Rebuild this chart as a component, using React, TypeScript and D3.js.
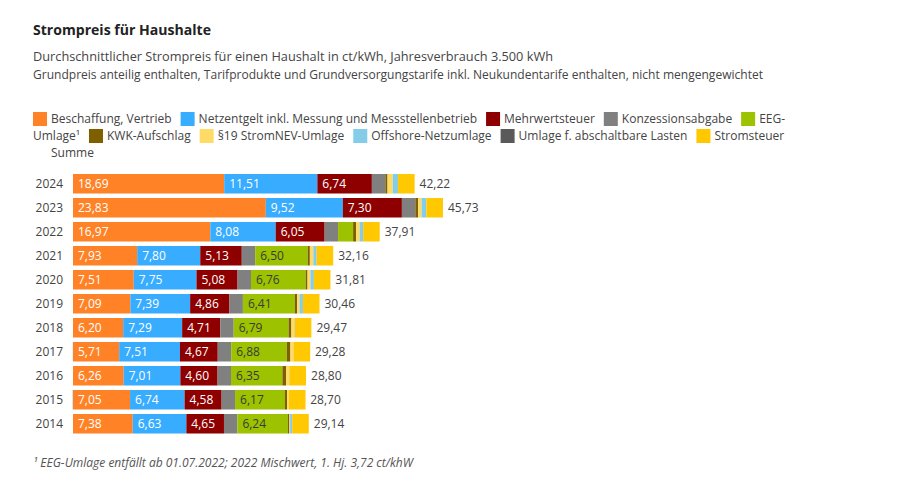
import { useEffect, useRef } from 'react';
import * as d3 from 'd3';

const years = ['2024', '2023', '2022', '2021', '2020', '2019', '2018', '2017', '2016', '2015', '2014'];

const beschaffung = [18.69, 23.83, 16.97, 7.93, 7.51, 7.09, 6.20, 5.71, 6.26, 7.05, 7.38];
const netzentgelt = [11.51, 9.52, 8.08, 7.80, 7.75, 7.39, 7.29, 7.51, 7.01, 6.74, 6.63];
const mehrwertsteuer = [6.74, 7.30, 6.05, 5.13, 5.08, 4.86, 4.71, 4.67, 4.60, 4.58, 4.65];
const konzession = [1.66, 1.66, 1.66, 1.66, 1.66, 1.66, 1.66, 1.66, 1.66, 1.66, 1.66];
const eeg = [0, 0, 1.86, 6.50, 6.76, 6.41, 6.79, 6.88, 6.35, 6.17, 6.24];
const kwk = [0.275, 0.357, 0.378, 0.254, 0.226, 0.280, 0.345, 0.438, 0.445, 0.254, 0.178];
const stromnev = [0.643, 0.417, 0.437, 0.432, 0.358, 0.305, 0.370, 0.388, 0.378, 0.237, 0.092];
const offshore = [0.656, 0.591, 0.419, 0.395, 0.416, 0.416, 0.037, -0.028, 0.040, -0.051, 0.250];
const abschaltbar = [0, 0, 0.003, 0.009, 0.007, 0.005, 0.011, 0.006, 0, 0, 0.009];
const stromsteuer = [2.05, 2.05, 2.05, 2.05, 2.05, 2.05, 2.05, 2.05, 2.05, 2.05, 2.05];
const summe = [42.22, 45.73, 37.91, 32.16, 31.81, 30.46, 29.47, 29.28, 28.80, 28.70, 29.14];

const series = [
    { key: 'Beschaffung, Vertrieb', values: beschaffung, color: '#ff8227', label: '#fff' },
    { key: 'Netzentgelt inkl. Messung und Messstellenbetrieb', values: netzentgelt, color: '#38acff', label: '#fff' },
    { key: 'Mehrwertsteuer', values: mehrwertsteuer, color: '#8e0000', label: '#fff' },
    { key: 'Konzessionsabgabe', values: konzession, color: '#808080', label: null },
    { key: 'EEG-Umlage¹', values: eeg, color: '#9cc200', label: '#3a3a3a' },
    { key: 'KWK-Aufschlag', values: kwk, color: '#7f6000', label: null },
    { key: '§19 StromNEV-Umlage', values: stromnev, color: '#ffdb66', label: null },
    { key: 'Offshore-Netzumlage', values: offshore, color: '#84cce8', label: null },
    { key: 'Umlage f. abschaltbare Lasten', values: abschaltbar, color: '#5a5a5a', label: null },
    { key: 'Stromsteuer', values: stromsteuer, color: '#ffc800', label: null },
];

const FONT = "'Open Sans', sans-serif";

function App() {
    const ref = useRef<SVGSVGElement>(null);

    useEffect(() => {
        const svg = d3.select(ref.current);
        svg.selectAll('*').remove();

        // header
        svg.append('text')
            .attr('x', 33).attr('y', 35)
            .attr('font-size', 14.5).attr('font-weight', 700).attr('fill', '#222')
            .attr('textLength', 178).attr('lengthAdjust', 'spacingAndGlyphs')
            .text('Strompreis für Haushalte');

        const subs = [
            ['Durchschnittlicher Strompreis für einen Haushalt in ct/kWh, Jahresverbrauch 3.500 kWh', 61, 520],
            ['Grundpreis anteilig enthalten, Tarifprodukte und Grundversorgungstarife inkl. Neukundentarife enthalten, nicht mengengewichtet', 79, 730],
        ];
        subs.forEach(([t, y, len]) => {
            svg.append('text')
                .attr('x', 33).attr('y', y as number)
                .attr('font-size', 12).attr('fill', '#444')
                .attr('textLength', len as number).attr('lengthAdjust', 'spacingAndGlyphs')
                .text(t as string);
        });

        // legend, flowing with wrap (breaks at a hyphen like the html legend did)
        const legend = svg.append('g').attr('font-size', 12).attr('fill', '#444');
        const legendItems = [...series.map(s => ({ key: s.key, color: s.color as string | null })), { key: 'Summe', color: null }];
        const left = 33, maxX = 800, rowH = 17, gap = 9;
        let lx = left, ly = 123;
        const measure = (t: string) => {
            const n = legend.append('text').text(t);
            const w = (n.node() as SVGTextElement).getComputedTextLength();
            n.remove();
            return w;
        };
        legendItems.forEach(item => {
            const full = measure(item.key);
            if (lx + 18 + full > maxX) {
                const hy = item.key.indexOf('-');
                const first = hy >= 0 ? item.key.slice(0, hy + 1) : '';
                if (first && lx + 18 + measure(first) <= maxX) {
                    legend.append('rect').attr('x', lx).attr('y', ly - 11).attr('width', 14).attr('height', 14)
                        .attr('fill', item.color ?? 'none');
                    legend.append('text').attr('x', lx + 18).attr('y', ly).text(first);
                    const rest = item.key.slice(hy + 1);
                    lx = left; ly += rowH;
                    legend.append('text').attr('x', lx).attr('y', ly).text(rest);
                    lx += measure(rest) + gap;
                    return;
                }
                lx = left; ly += rowH;
            }
            legend.append('rect').attr('x', lx).attr('y', ly - 11).attr('width', 14).attr('height', 14)
                .attr('fill', item.color ?? 'none');
            legend.append('text').attr('x', lx + 18).attr('y', ly).text(item.key);
            lx += 18 + full + gap;
        });

        // bars
        const rows = years.map((y, i) => {
            const r: any = { year: y };
            series.forEach(s => { r[s.key] = s.values[i]; });
            return r;
        });
        const stacked = d3.stack().keys(series.map(s => s.key)).offset(d3.stackOffsetDiverging)(rows);

        const x = d3.scaleLinear().domain([0, d3.max(summe) as number]).range([73, 443]);
        const y = d3.scaleBand().domain(years).range([169.5, 438]).padding(0.1875);

        const chart = svg.append('g');
        stacked.forEach((layer, li) => {
            const s = series[li];
            chart.append('g').attr('fill', s.color)
                .selectAll('rect')
                .data(layer)
                .enter()
                .append('rect')
                .attr('x', d => x(Math.min(d[0], d[1])))
                .attr('y', (d: any) => y(d.data.year) as number)
                .attr('width', d => Math.abs(x(d[1]) - x(d[0])))
                .attr('height', y.bandwidth());
            if (s.label) {
                chart.append('g').attr('font-size', 12).attr('fill', s.label)
                    .selectAll('text')
                    .data(layer.filter((d: any) => d.data[s.key] >= 3))
                    .enter()
                    .append('text')
                    .attr('x', d => x(d[0]) + 5)
                    .attr('y', (d: any) => (y(d.data.year) as number) + y.bandwidth() / 2)
                    .attr('dy', '0.35em')
                    .text((d: any) => d3.format('.2f')(d.data[s.key]).replace('.', ','));
            }
        });

        // totals
        chart.append('g').attr('font-size', 12).attr('fill', '#444')
            .selectAll('text')
            .data(years)
            .enter()
            .append('text')
            .attr('x', (_d, i) => x(summe[i]) + 5)
            .attr('y', d => (y(d) as number) + y.bandwidth() / 2)
            .attr('dy', '0.35em')
            .text((_d, i) => d3.format('.2f')(summe[i]).replace('.', ','));

        // year axis
        chart.append('g').attr('font-size', 12).attr('fill', '#444').attr('text-anchor', 'end')
            .selectAll('text')
            .data(years)
            .enter()
            .append('text')
            .attr('x', 63)
            .attr('y', d => (y(d) as number) + y.bandwidth() / 2)
            .attr('dy', '0.35em')
            .text(d => d);

        // footnote
        svg.append('text')
            .attr('x', 33).attr('y', 467)
            .attr('font-size', 12).attr('font-style', 'italic').attr('fill', '#555')
            .attr('textLength', 380).attr('lengthAdjust', 'spacingAndGlyphs')
            .text('¹ EEG-Umlage entfällt ab 01.07.2022; 2022 Mischwert, 1. Hj. 3,72 ct/khW');
    }, []);

    return (
        <svg ref={ref} width={897} height={482}
            style={{ position: 'absolute', top: 0, left: 0, fontFamily: FONT, background: '#fff' }} />
    );
}

export default App;
